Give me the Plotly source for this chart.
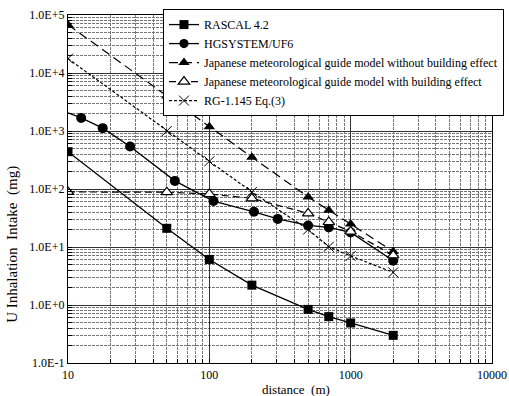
import plotly.graph_objects as go

# ---- data ----
x_std = [10, 50, 100, 200, 500, 700, 1000, 2000]
rascal = [440, 21, 6.1, 2.2, 0.84, 0.63, 0.49, 0.30]

x_hg = [10, 12.4, 17.6, 27.5, 57, 107, 207, 305, 500, 700, 1000, 2000]
hgsystem = [2050, 1680, 1120, 540, 138, 62, 40.5, 30.5, 23.5, 21.8, 17.8, 5.8]
hg_marker_size = [0, 10, 10, 10, 10, 10, 10, 10, 10, 10, 10, 10]

jp_without = [68000, 4000, 1180, 354, 73, 43, 24.8, 8.4]
jp_with = [89, 88, 82, 69, 38, 27, 18.5, 7.2]
rg1145 = [17700, 1000, 300, 89, 20, 10.1, 7.0, 3.65]

names = ["RASCAL 4.2", "HGSYSTEM/UF6",
         "Japanese meteorological guide model without building effect",
         "Japanese meteorological guide model with building effect",
         "RG-1.145 Eq.(3)"]

x_tickvals = [10, 100, 1000, 10000]
x_ticktext = ["10", "100", "1000", "10000"]
y_tickvals = [0.1, 1, 10, 100, 1000, 10000, 100000]
y_ticktext = ["1.0E-1", "1.0E+0", "1.0E+1", "1.0E+2", "1.0E+3", "1.0E+4", "1.0E+5"]

FONT = "'Liberation Serif', 'Times New Roman', Times, serif"

fig = go.Figure()
fig.add_trace(go.Scatter(x=x_std, y=rascal, name=names[0], mode="lines+markers",
                         line=dict(color="black", width=1.3),
                         marker=dict(symbol="square", size=9, color="black", opacity=1)))
fig.add_trace(go.Scatter(x=x_hg, y=hgsystem, name=names[1], mode="lines+markers",
                         line=dict(color="black", width=1.3),
                         marker=dict(symbol="circle", size=hg_marker_size, color="black",
                                     opacity=1, line=dict(width=0))))
fig.add_trace(go.Scatter(x=x_std, y=jp_without, name=names[2], mode="lines+markers",
                         line=dict(color="black", width=1.2, dash="9px,5px"),
                         marker=dict(symbol="triangle-up", size=10, color="black", opacity=1)))
fig.add_trace(go.Scatter(x=x_std, y=jp_with, name=names[3], mode="lines+markers",
                         line=dict(color="black", width=1.2, dash="7px,4px"),
                         marker=dict(symbol="triangle-up", size=10, color="white", opacity=1,
                                     line=dict(color="black", width=1.2))))
fig.add_trace(go.Scatter(x=x_std, y=rg1145, name=names[4], mode="lines+markers",
                         line=dict(color="black", width=1.2, dash="3px,2px"),
                         marker=dict(symbol="x-thin", size=10, color="black", opacity=1,
                                     line=dict(color="black", width=1))))

axis_common = dict(
    showline=True, linecolor="black", linewidth=1.3, mirror=True,
    showgrid=True, gridcolor="#333333", gridwidth=1,
    ticks="inside", ticklen=4, tickcolor="black",
    tickfont=dict(family=FONT, size=12, color="black"),
    zeroline=False,
)

minor = dict(dtick="D1", showgrid=True, gridcolor="#777777",
             griddash="3px,1px", gridwidth=1, ticks="inside", ticklen=4,
             tickcolor="black")

fig.update_xaxes(type="log", range=[1, 4], tickvals=x_tickvals, ticktext=x_ticktext,
                 minor=minor, **axis_common)
fig.update_yaxes(type="log", range=[-1, 5], tickvals=y_tickvals, ticktext=y_ticktext,
                 minor=minor, **axis_common)

fig.update_layout(
    width=509, height=396,
    margin=dict(l=68, r=17, t=15, b=33, autoexpand=False),
    paper_bgcolor="white", plot_bgcolor="white",
    font=dict(family=FONT, size=12, color="black"),
    showlegend=True,
    legend=dict(x=0.224, y=1.017, xanchor="left", yanchor="top",
                bgcolor="white", bordercolor="black", borderwidth=1,
                font=dict(family=FONT, size=12, color="black"),
                itemwidth=30, tracegroupgap=0),
    annotations=[
        dict(text="distance  (m)", xref="paper", yref="paper", x=0.538, y=-0.076,
             xanchor="center", yanchor="middle", showarrow=False,
             font=dict(family=FONT, size=13, color="black")),
        dict(text="U Inhalation  Intake  (mg)", xref="paper", yref="paper",
             x=-0.13, y=0.342, xanchor="center", yanchor="middle", textangle=-90,
             showarrow=False, font=dict(family=FONT, size=15, color="black")),
    ],
)

fig.write_html("out.html")
